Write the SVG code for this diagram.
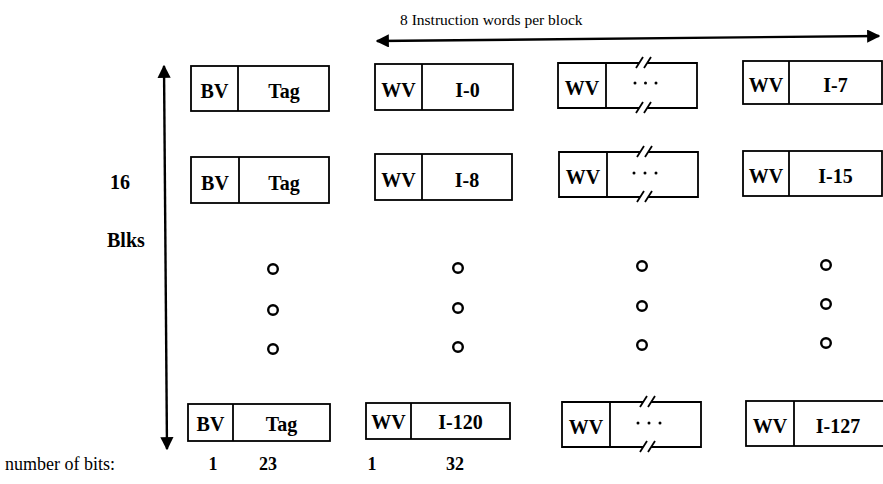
<svg xmlns="http://www.w3.org/2000/svg" width="883" height="484" viewBox="0 0 883 484">
<style>
.bx{fill:none;stroke:#000;stroke-width:1.8}
.lb{font-family:"Liberation Serif",serif;font-weight:bold;font-size:20px;text-anchor:middle;fill:#000}
.tx{font-family:"Liberation Serif",serif;fill:#000}
.ci{fill:none;stroke:#000;stroke-width:2.4}
.ar{stroke:#000;stroke-width:2.4;fill:none}
.dt{fill:#000}
</style>
<defs>
<marker id="ah" viewBox="0 0 10 10" refX="9" refY="5" markerWidth="5.5" markerHeight="5.5" orient="auto-start-reverse" markerUnits="strokeWidth">
<path d="M0,0 L10,5 L0,10 z" fill="#000"/>
</marker>
</defs>
<rect width="883" height="484" fill="#fff"/>

<text class="tx" x="400" y="25" font-size="15.5">8 Instruction words per block</text>
<text class="tx" x="110" y="189" font-size="20" font-weight="bold">16</text>
<text class="tx" x="107" y="247" font-size="20" font-weight="bold">Blks</text>
<text class="tx" x="5" y="470" font-size="18">number of bits:</text>
<g class="tx" font-size="18" font-weight="bold" text-anchor="middle">
<text x="213" y="470">1</text>
<text x="268" y="470">23</text>
<text x="372" y="470">1</text>
<text x="455" y="470">32</text>
</g>

<g id="connectors">
<line class="ar" x1="377" y1="41" x2="879" y2="36" marker-start="url(#ah)" marker-end="url(#ah)"/>
<line class="ar" x1="164" y1="66" x2="167" y2="449" marker-start="url(#ah)" marker-end="url(#ah)"/>
</g>

<!-- Row 1 -->
<g id="r1c1"><rect class="bx" x="191" y="66" width="138" height="45"/><line class="bx" x1="238" y1="66" x2="238" y2="111"/><text class="lb" x="214.5" y="98">BV</text><text class="lb" x="284" y="98">Tag</text></g>
<g id="r1c2"><rect class="bx" x="375" y="64" width="138" height="46"/><line class="bx" x1="422" y1="64" x2="422" y2="110"/><text class="lb" x="398.5" y="97">WV</text><text class="lb" x="467.5" y="97">I-0</text></g>
<g id="r1c3"><path class="bx" d="M639.2,63 H558 V108 H639.2 M647.2,108 H697 V63 H647.2 M606,63 V108 M636,68 L643,57 M644,68 L651,57 M636,113 L643,102 M644,113 L651,102"/><text class="lb" x="582" y="95">WV</text><circle class="dt" cx="635" cy="83" r="1.5"/><circle class="dt" cx="645.5" cy="83" r="1.5"/><circle class="dt" cx="656" cy="83" r="1.5"/></g>
<g id="r1c4"><rect class="bx" x="743" y="61" width="139" height="43"/><line class="bx" x1="789" y1="61" x2="789" y2="104"/><text class="lb" x="766" y="92">WV</text><text class="lb" x="835.5" y="92">I-7</text></g>

<!-- Row 2 -->
<g id="r2c1"><rect class="bx" x="191" y="157" width="138" height="46"/><line class="bx" x1="239" y1="157" x2="239" y2="203"/><text class="lb" x="215" y="190">BV</text><text class="lb" x="284" y="190">Tag</text></g>
<g id="r2c2"><rect class="bx" x="375" y="154" width="137" height="46"/><line class="bx" x1="422" y1="154" x2="422" y2="200"/><text class="lb" x="398.5" y="187">WV</text><text class="lb" x="467" y="187">I-8</text></g>
<g id="r2c3"><path class="bx" d="M640.2,152 H559 V197 H640.2 M648.2,197 H698 V152 H648.2 M607,152 V197 M637,157 L644,146 M645,157 L652,146 M637,202 L644,191 M645,202 L652,191"/><text class="lb" x="583" y="184">WV</text><circle class="dt" cx="634" cy="173" r="1.5"/><circle class="dt" cx="645" cy="173" r="1.5"/><circle class="dt" cx="656" cy="173" r="1.5"/></g>
<g id="r2c4"><rect class="bx" x="743" y="151" width="139" height="45"/><line class="bx" x1="789" y1="151" x2="789" y2="196"/><text class="lb" x="766" y="183">WV</text><text class="lb" x="835.5" y="183">I-15</text></g>

<!-- Ellipsis circles -->
<g id="dots">
<circle class="ci" cx="273" cy="269" r="4.8"/><circle class="ci" cx="273" cy="310" r="4.8"/><circle class="ci" cx="273" cy="349" r="4.8"/>
<circle class="ci" cx="458" cy="268" r="4.8"/><circle class="ci" cx="458" cy="308" r="4.8"/><circle class="ci" cx="458" cy="347" r="4.8"/>
<circle class="ci" cx="642" cy="266" r="4.8"/><circle class="ci" cx="642" cy="306" r="4.8"/><circle class="ci" cx="642" cy="345" r="4.8"/>
<circle class="ci" cx="826" cy="265" r="4.8"/><circle class="ci" cx="826" cy="304" r="4.8"/><circle class="ci" cx="826" cy="343" r="4.8"/>
</g>

<!-- Row 4 -->
<g id="r4c1"><rect class="bx" x="188" y="404" width="142" height="37"/><line class="bx" x1="233" y1="404" x2="233" y2="441"/><text class="lb" x="210.5" y="431">BV</text><text class="lb" x="281.5" y="431">Tag</text></g>
<g id="r4c2"><rect class="bx" x="366" y="403" width="144" height="36"/><line class="bx" x1="411" y1="403" x2="411" y2="439"/><text class="lb" x="388.5" y="429">WV</text><text class="lb" x="460.5" y="429">I-120</text></g>
<g id="r4c3"><path class="bx" d="M643.2,402 H562 V447 H643.2 M651.2,447 H701 V402 H651.2 M610,402 V447 M640,407 L647,396 M648,407 L655,396 M640,452 L647,441 M648,452 L655,441"/><text class="lb" x="586" y="434">WV</text><circle class="dt" cx="638" cy="423" r="1.5"/><circle class="dt" cx="649" cy="423" r="1.5"/><circle class="dt" cx="660" cy="423" r="1.5"/></g>
<g id="r4c4"><rect class="bx" x="746" y="401" width="138" height="45"/><line class="bx" x1="794" y1="401" x2="794" y2="446"/><text class="lb" x="770" y="433">WV</text><text class="lb" x="838" y="433">I-127</text></g>
</svg>
